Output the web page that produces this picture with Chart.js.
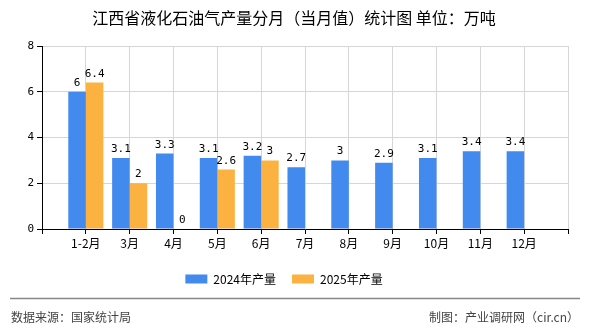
<!DOCTYPE html>
<html>
<head>
<meta charset="utf-8">
<script src="https://cdn.jsdelivr.net/npm/chart.js@4"></script>
<style>
  html, body { margin: 0; padding: 0; background: #fff; }
  #wrap { width: 590px; height: 330px; position: relative; }
</style>
</head>
<body>
<div id="wrap"><canvas id="chart" width="590" height="330"></canvas></div>
<script>
// data
const months = ['1-2月', '3月', '4月', '5月', '6月', '7月', '8月', '9月', '10月', '11月', '12月'];
const output2024 = [6, 3.1, 3.3, 3.1, 3.2, 2.7, 3, 2.9, 3.1, 3.4, 3.4];
const output2025 = [6.4, 2, 0, 2.6, 3];
const yTicks = [0, 2, 4, 6, 8];

const titleText = '江西省液化石油气产量分月（当月值）统计图 单位：万吨';
const sourceText = '数据来源：国家统计局';
const makerText = '制图：产业调研网（cir.cn）';

const cjk = '"Noto Sans CJK SC", "Noto Sans", sans-serif';

// empty slot at both ends so months sit on the ticks, like the original
const labels = [''].concat(months, ['']);
function pad(arr) {
    const out = [null];
    for (let i = 0; i < months.length; i++) {
        out.push(i < arr.length ? arr[i] : null);
    }
    out.push(null);
    return out;
}

const valueLabels = {
    id: 'valueLabels',
    afterDatasetsDraw(chart) {
        const ctx = chart.ctx;
        ctx.save();
        ctx.font = '11px "DejaVu Sans Mono", monospace';
        ctx.fillStyle = '#000';
        ctx.textAlign = 'center';
        ctx.textBaseline = 'alphabetic';
        chart.data.datasets.forEach((ds, di) => {
            const meta = chart.getDatasetMeta(di);
            meta.data.forEach((bar, i) => {
                const v = ds.data[i];
                if (v === null || v === undefined) return;
                ctx.fillText(String(v), bar.x, bar.y - 6);
            });
        });
        ctx.restore();
    }
};

const frame = {
    id: 'frame',
    afterDraw(chart) {
        const ctx = chart.ctx;
        ctx.save();
        ctx.fillStyle = '#000';
        ctx.font = '16px ' + cjk;
        ctx.textAlign = 'center';
        ctx.textBaseline = 'middle';
        ctx.fillText(titleText, 294, 18);

        ctx.strokeStyle = '#888';
        ctx.lineWidth = 1.5;
        ctx.beginPath();
        ctx.moveTo(10, 298.5);
        ctx.lineTo(580, 298.5);
        ctx.stroke();

        ctx.fillStyle = '#444';
        ctx.font = '12px ' + cjk;
        ctx.textAlign = 'left';
        ctx.fillText(sourceText, 11, 317);
        ctx.textAlign = 'right';
        ctx.fillText(makerText, 579, 317);
        ctx.restore();
    }
};

const chart = new Chart(document.querySelector('#chart').getContext('2d'), {
    type: 'bar',
    data: {
        labels: labels,
        datasets: [
            {
                label: '2024年产量',
                data: pad(output2024),
                backgroundColor: '#428AEE',
                categoryPercentage: 0.8,
                barPercentage: 1
            },
            {
                label: '2025年产量',
                data: pad(output2025),
                backgroundColor: '#FBB241',
                categoryPercentage: 0.8,
                barPercentage: 1
            }
        ]
    },
    options: {
        responsive: false,
        animation: false,
        layout: { padding: { top: 46, right: 22, left: 0, bottom: 35 } },
        plugins: {
            title: { display: false },
            tooltip: { enabled: false },
            legend: {
                position: 'bottom',
                labels: {
                    boxWidth: 22,
                    boxHeight: 9,
                    padding: 16,
                    color: '#000',
                    font: { family: cjk, size: 12 }
                }
            }
        },
        scales: {
            x: {
                offset: false,
                grid: { offset: false, color: '#d6d6d6', tickColor: '#000', tickLength: 5 },
                border: { color: '#000' },
                ticks: {
                    autoSkip: false,
                    maxRotation: 0,
                    padding: 2,
                    color: '#000',
                    font: { family: cjk, size: 12 }
                },
                afterFit(scale) { scale.height = 28; }
            },
            y: {
                min: 0,
                max: 8,
                afterBuildTicks(scale) { scale.ticks = yTicks.map(v => ({ value: v })); },
                grid: { color: '#d6d6d6', tickColor: '#000', tickLength: 5 },
                border: { color: '#000' },
                ticks: {
                    padding: 3,
                    color: '#000',
                    font: { family: '"DejaVu Sans Mono", monospace', size: 11 }
                },
                afterFit(scale) { scale.width = 42; }
            }
        }
    },
    plugins: [valueLabels, frame]
});
</script>
</body>
</html>
